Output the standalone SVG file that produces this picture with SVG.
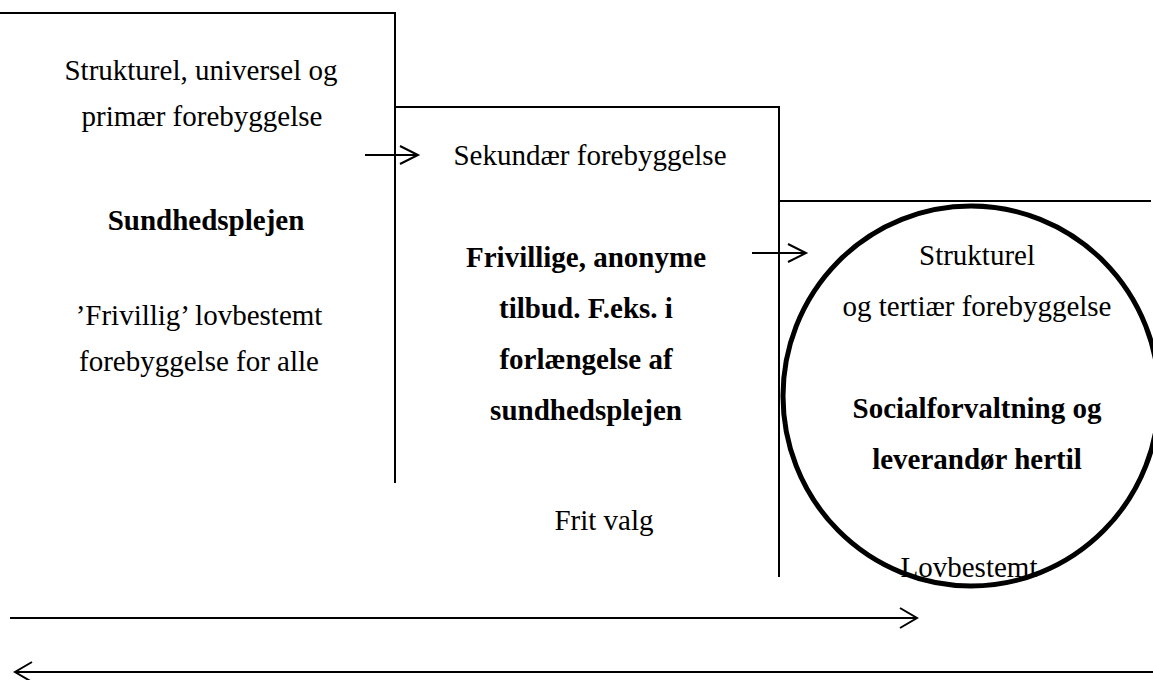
<svg xmlns="http://www.w3.org/2000/svg" width="1153" height="680" viewBox="0 0 1153 680">
<style>
text{font-family:"Liberation Serif","Times New Roman",serif;font-size:29px;fill:#000;text-anchor:middle}
.b{font-weight:bold}
.ln{fill:none;stroke:#000;stroke-width:2}
</style>
<rect width="1153" height="680" fill="#fff"/>
<g id="connectors" class="ln">
<path d="M0,13 H395 V483"/>
<path d="M395,107 H779 V577"/>
<path d="M779,201 H1151"/>
<path d="M365,155 H418 M400,146 L418,155 L400,164"/>
<path d="M752,253 H806 M788,244 L806,253 L788,262"/>
<path d="M10,618 H917 M900,608 L917,618 L900,628"/>
<path d="M15,672 H1153 M32,662 L15,672 L32,682"/>
</g>
<g id="node1">
<text x="201" y="80">Strukturel, universel og</text>
<text x="202" y="126">primær forebyggelse</text>
<text x="206" y="230" class="b">Sundhedsplejen</text>
<text x="199" y="325">’Frivillig’ lovbestemt</text>
<text x="199" y="371">forebyggelse for alle</text>
</g>
<g id="node2">
<text x="590" y="165">Sekundær forebyggelse</text>
<text x="586" y="267" class="b">Frivillige, anonyme</text>
<text x="586" y="318" class="b">tilbud. F.eks. i</text>
<text x="586" y="369" class="b">forlængelse af</text>
<text x="586" y="420" class="b">sundhedsplejen</text>
<text x="604" y="530">Frit valg</text>
</g>
<g id="node3">
<ellipse cx="971" cy="396" rx="188" ry="190" fill="none" stroke="#000" stroke-width="5"/>
<text x="977" y="265">Strukturel</text>
<text x="977" y="316">og tertiær forebyggelse</text>
<text x="977" y="418" class="b">Socialforvaltning og</text>
<text x="977" y="469" class="b">leverandør hertil</text>
<text x="969" y="577">Lovbestemt</text>
</g>
</svg>
